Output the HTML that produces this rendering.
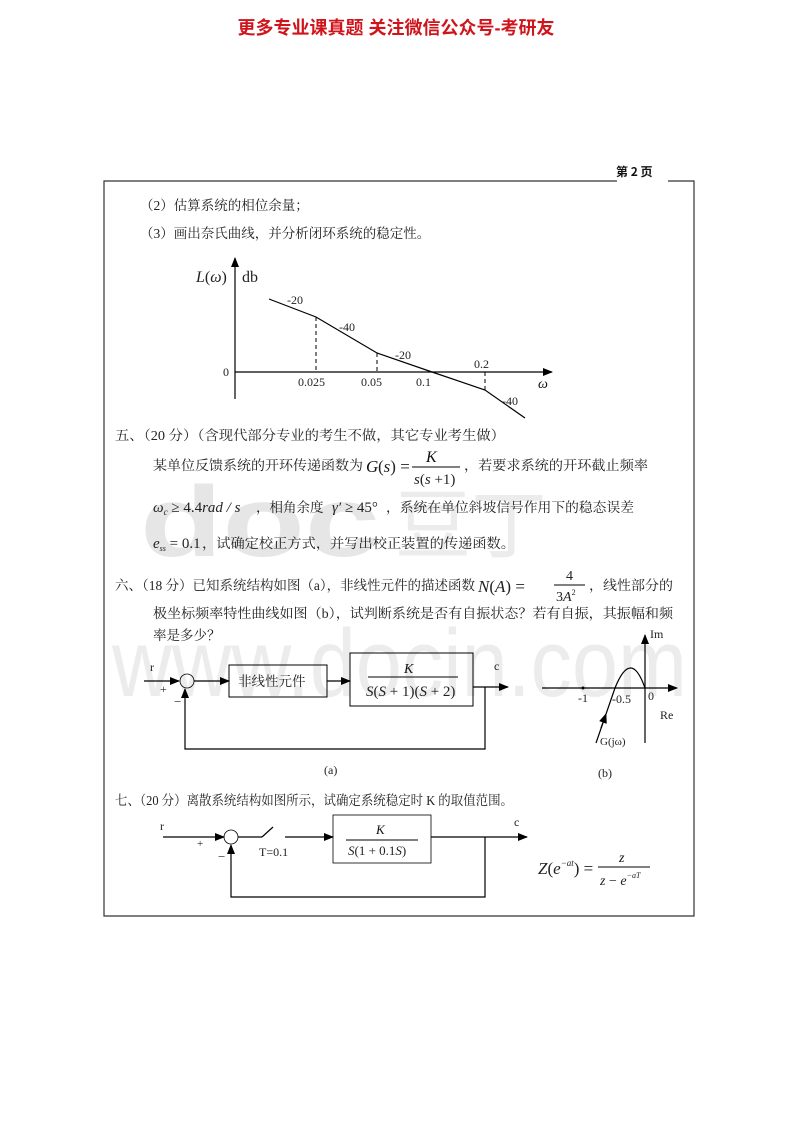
<!DOCTYPE html>
<html><head><meta charset="utf-8"><style>
body{margin:0;background:#fff;}
svg{display:block;}
.t{font-family:"Liberation Serif","Noto Serif CJK SC",serif;fill:#222;}
.c{font-family:"Liberation Serif","Noto Serif CJK SC",serif;font-size:13.5px;fill:#222;}
.m{font-family:"Liberation Serif",serif;font-style:italic;fill:#111;}
</style></head><body>
<svg width="792" height="1122" viewBox="0 0 792 1122" xmlns="http://www.w3.org/2000/svg">
<defs><marker id="a" markerWidth="10" markerHeight="8" refX="9" refY="4" orient="auto" markerUnits="userSpaceOnUse"><path d="M0,0L10,4L0,8z" fill="#000"/></marker></defs>
<!-- watermark -->
<g>
<text x="140" y="556" font-family="Liberation Sans,sans-serif" font-weight="bold" font-size="100" fill="#e6e6e6" textLength="240" lengthAdjust="spacingAndGlyphs">doc</text>
<text x="395" y="552" font-family="Noto Sans CJK SC,sans-serif" font-size="76" fill="#ececec">豆丁</text>
<text x="112" y="696" font-family="Liberation Sans,sans-serif" font-size="96" fill="#ececec" textLength="575" lengthAdjust="spacingAndGlyphs">www.docin.com</text>
</g>
<text x="396" y="34" text-anchor="middle" font-family="Liberation Sans,'Noto Sans CJK SC',sans-serif" font-weight="bold" font-size="18" fill="#d0141b">更多专业课真题 关注微信公众号-考研友</text>
<text x="616" y="176" font-family="'Noto Sans CJK SC',sans-serif" font-weight="bold" font-size="12" fill="#111">第 2 页</text>
<path d="M617,181H104V916H694V181H668" fill="none" stroke="#333" stroke-width="1.2"/>
<text class="c" x="140" y="210">（2）估算系统的相位余量；</text>
<text class="c" x="140" y="238">（3）画出奈氏曲线，并分析闭环系统的稳定性。</text>
<!-- bode -->
<g stroke="#000" fill="none" stroke-width="1.2">
<line x1="235" y1="399" x2="235" y2="258" marker-end="url(#a)"/>
<line x1="235" y1="372" x2="552" y2="372" marker-end="url(#a)"/>
<polyline points="269,299 316,317 377,353 432,372 485,390 525,418"/>
<g stroke-dasharray="4,3" stroke-width="1"><line x1="316" y1="317" x2="316" y2="372"/><line x1="377" y1="353" x2="377" y2="372"/><line x1="485" y1="372" x2="485" y2="390"/></g>
</g>
<g class="t" font-size="12">
<text x="287" y="304">-20</text><text x="339" y="331">-40</text><text x="395" y="359">-20</text>
<text x="474" y="368">0.2</text><text x="298" y="386">0.025</text><text x="361" y="386">0.05</text><text x="416" y="386">0.1</text>
<text x="502" y="405">-40</text><text x="223" y="376">0</text>
<text x="538" y="388" class="m" font-size="14">ω</text>
<text x="196" y="282" font-size="16"><tspan font-style="italic">L</tspan>(<tspan font-style="italic">ω</tspan>)</text>
<text x="242" y="282" font-size="16">db</text>
</g>
<!-- section 5 -->
<text class="c" x="115" y="440" textLength="390" lengthAdjust="spacingAndGlyphs">五、（20 分）（含现代部分专业的考生不做，其它专业考生做）</text>
<text class="c" x="153" y="470" textLength="210" lengthAdjust="spacingAndGlyphs">某单位反馈系统的开环传递函数为</text>
<text class="m" x="366" y="472" font-size="17">G</text><text class="t" x="378" y="472" font-size="17">(<tspan font-style="italic">s</tspan>) =</text>
<text class="m" x="426" y="462" font-size="16">K</text>
<line x1="412" y1="467" x2="460" y2="467" stroke="#000"/>
<text class="t" x="414" y="484" font-size="15"><tspan font-style="italic">s</tspan>(<tspan font-style="italic">s</tspan> +1)</text>
<text class="c" x="464" y="470" textLength="184" lengthAdjust="spacingAndGlyphs">，若要求系统的开环截止频率</text>
<text class="t" x="153" y="512" font-size="15"><tspan font-style="italic">ω</tspan><tspan font-size="9" dy="3" font-style="italic">c</tspan><tspan dy="-3"> ≥ 4.4</tspan><tspan font-style="italic">rad / s</tspan></text>
<text class="c" x="256" y="512">，相角余度</text><text class="t" x="332" y="512" font-size="15"><tspan font-style="italic">γ′</tspan> ≥ 45°</text>
<text class="c" x="386" y="512" textLength="248" lengthAdjust="spacingAndGlyphs">，系统在单位斜坡信号作用下的稳态误差</text>
<text class="t" x="153" y="548" font-size="15"><tspan font-style="italic">e</tspan><tspan font-size="8" dy="3" font-style="italic">ss</tspan><tspan dy="-3"> = 0.1</tspan></text>
<text class="c" x="202" y="548" textLength="313" lengthAdjust="spacingAndGlyphs">，试确定校正方式，并写出校正装置的传递函数。</text>
<!-- section 6 -->
<text class="c" x="115" y="590" textLength="360" lengthAdjust="spacingAndGlyphs">六、（18 分）已知系统结构如图（a），非线性元件的描述函数</text>
<text class="t" x="478" y="592" font-size="17"><tspan font-style="italic">N</tspan>(<tspan font-style="italic">A</tspan>) =</text>
<text class="t" x="566" y="580" font-size="14">4</text>
<line x1="554" y1="585" x2="585" y2="585" stroke="#000"/>
<text class="t" x="556" y="601" font-size="14">3<tspan font-style="italic">A</tspan><tspan font-size="8" dy="-6">2</tspan></text>
<text class="c" x="589" y="590" textLength="84" lengthAdjust="spacingAndGlyphs">，线性部分的</text>
<text class="c" x="153" y="618" textLength="520" lengthAdjust="spacingAndGlyphs">极坐标频率特性曲线如图（b），试判断系统是否有自振状态？若有自振，其振幅和频</text>
<text class="c" x="153" y="640">率是多少？</text>
<!-- diagram a -->
<g stroke="#000" fill="none" stroke-width="1.2">
<line x1="144" y1="681" x2="179" y2="681" marker-end="url(#a)"/>
<circle cx="187" cy="681" r="7" stroke-width="0.8"/>
<line x1="194" y1="681" x2="229" y2="681" marker-end="url(#a)"/>
<rect x="229" y="665" width="98" height="32" stroke-width="1"/>
<line x1="327" y1="681" x2="350" y2="681" marker-end="url(#a)"/>
<rect x="350" y="653" width="123" height="53" stroke-width="1"/>
<line x1="473" y1="687" x2="508" y2="687" marker-end="url(#a)"/>
<polyline points="485,687 485,749 185,749 185,689" marker-end="url(#a)"/>
<line x1="368" y1="677" x2="458" y2="677" stroke-width="1"/>
</g>
<text class="t" x="150" y="671" font-size="12">r</text><text class="t" x="160" y="693" font-size="12">+</text><text class="t" x="174" y="706" font-size="13">−</text>
<text class="c" x="238" y="686">非线性元件</text>
<text class="m" x="404" y="673" font-size="14">K</text>
<text class="t" x="366" y="696" font-size="15"><tspan font-style="italic">S</tspan>(<tspan font-style="italic">S</tspan> + 1)(<tspan font-style="italic">S</tspan> + 2)</text>
<text class="t" x="494" y="670" font-size="12">c</text>
<text class="t" x="324" y="774" font-size="12">(a)</text>
<!-- diagram b -->
<g stroke="#000" fill="none" stroke-width="1.2">
<line x1="542" y1="688" x2="677" y2="688" marker-end="url(#a)"/>
<line x1="645" y1="743" x2="645" y2="635" marker-end="url(#a)"/>
<path d="M596,743 L615,688 Q631,648 645,688"/>
<path d="M601,728 L606,714" marker-end="url(#a)"/>
</g>
<circle cx="583" cy="688" r="1.5" fill="#000"/>
<text class="t" x="650" y="638" font-size="12">Im</text><text class="t" x="578" y="702" font-size="12">-1</text>
<text class="t" x="612" y="703" font-size="12">-0.5</text><text class="t" x="648" y="700" font-size="12">0</text>
<text class="t" x="660" y="719" font-size="12">Re</text><text class="t" x="600" y="745" font-size="11">G(jω)</text>
<text class="t" x="598" y="777" font-size="12">(b)</text>
<!-- section 7 -->
<text class="c" x="115" y="805" textLength="398" lengthAdjust="spacingAndGlyphs">七、（20 分）离散系统结构如图所示，试确定系统稳定时 K 的取值范围。</text>
<g stroke="#000" fill="none" stroke-width="1.2">
<line x1="163" y1="837" x2="224" y2="837" marker-end="url(#a)"/>
<circle cx="231" cy="837" r="7" stroke-width="0.8"/>
<line x1="238" y1="837" x2="262" y2="837"/>
<line x1="262" y1="837" x2="273" y2="827"/>
<line x1="285" y1="837" x2="333" y2="837" marker-end="url(#a)"/>
<rect x="333" y="815" width="98" height="48" stroke-width="0.8"/>
<line x1="431" y1="837" x2="527" y2="837" marker-end="url(#a)"/>
<polyline points="485,837 485,897 231,897 231,845" marker-end="url(#a)"/>
<line x1="346" y1="840" x2="418" y2="840" stroke-width="1"/>
</g>
<text class="t" x="160" y="830" font-size="12">r</text><text class="t" x="197" y="847" font-size="11">+</text><text class="t" x="218" y="861" font-size="13">−</text>
<text class="t" x="259" y="856" font-size="12">T=0.1</text>
<text class="m" x="376" y="834" font-size="13">K</text>
<text class="t" x="348" y="855" font-size="13"><tspan font-style="italic">S</tspan>(1 + 0.1<tspan font-style="italic">S</tspan>)</text>
<text class="t" x="514" y="826" font-size="12">c</text>
<text class="t" x="538" y="874" font-size="17"><tspan font-style="italic">Z</tspan>(<tspan font-style="italic">e</tspan><tspan font-size="9" dy="-8" font-style="italic">−at</tspan><tspan dy="8">) =</tspan></text>
<text class="m" x="619" y="862" font-size="14">z</text>
<line x1="598" y1="867" x2="650" y2="867" stroke="#000"/>
<text class="t" x="600" y="885" font-size="14"><tspan font-style="italic">z</tspan> − <tspan font-style="italic">e</tspan><tspan font-size="8" dy="-7" font-style="italic">−aT</tspan></text>
</svg>
</body></html>
